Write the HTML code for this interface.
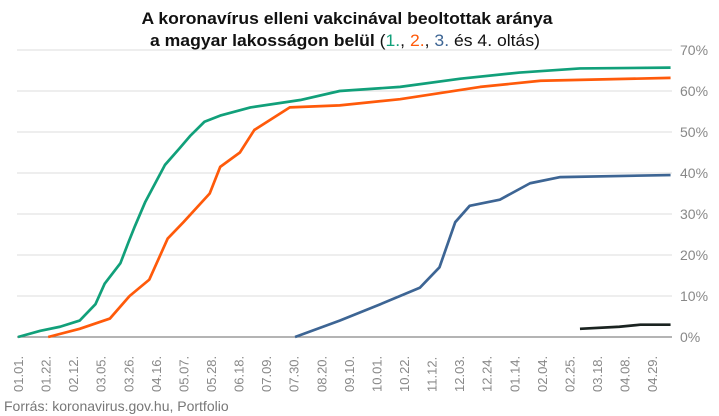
<!DOCTYPE html>
<html><head><meta charset="utf-8"><style>
body{margin:0;background:#fff;}
svg{display:block;font-family:"Liberation Sans",sans-serif;}
</style></head><body>
<svg id="chart" width="719" height="416">
<text x="347" y="24" text-anchor="middle" font-size="17" font-weight="bold" fill="#111" textLength="411" lengthAdjust="spacingAndGlyphs">A koronavírus elleni vakcinával beoltottak aránya</text>
<text x="345" y="46" text-anchor="middle" font-size="17" fill="#111" textLength="390" lengthAdjust="spacingAndGlyphs"><tspan font-weight="bold">a magyar lakosságon belül </tspan>(<tspan fill="#11a07a">1.</tspan>, <tspan fill="#ff5a0a">2.</tspan>, <tspan fill="#3d6594">3.</tspan> és 4. oltás)</text>
<g id="grid"></g><g id="series"></g><g id="xlabels"></g>
<text x="4" y="411" font-size="14" fill="#777">Forrás: koronavirus.gov.hu, Portfolio</text>
</svg>
<script>
const yTicks=[0,10,20,30,40,50,60,70];
const xLabels=["01.01.","01.22.","02.12.","03.05.","03.26.","04.16.","05.07.","05.28.","06.18.","07.09.","07.30.","08.20.","09.10.","10.01.","10.22.","11.12.","12.03.","12.24.","01.14.","02.04.","02.25.","03.18.","04.08.","04.29."];
const dose1Days=[0,17,32,47,59,66,78,84,89,97,112,123,131,142,154,177,215,245,291,337,382,428,497];
const dose1Vals=[0,1.5,2.5,4,8,13,18,23,27,33,42,46,49,52.5,54,56,57.8,60,61,63,64.5,65.5,65.7];
const dose2Days=[23,47,70,85,100,114,126,146,154,169,180,207,245,291,352,398,497];
const dose2Vals=[0,2,4.5,10,14,24,28,35,41.5,45,50.5,56,56.5,58,61,62.5,63.2];
const dose3Days=[211,245,276,306,321,333,344,367,390,413,497];
const dose3Vals=[0,4,8,12,17,28,32,33.5,37.5,39,39.5];
const dose4Days=[428,458,474,497];
const dose4Vals=[2,2.5,3,3];
const NS="http://www.w3.org/2000/svg";
const x0=18,pxPerDay=1.313,y0=337,pxPerPct=4.1;
const xs=d=>x0+d*pxPerDay, ys=v=>y0-v*pxPerPct;
const grid=document.getElementById('grid');
yTicks.forEach(t=>{
 const l=document.createElementNS(NS,'line');
 
 
 l.setAttribute('x1',17);l.setAttribute('x2',672);l.setAttribute('y1',ys(t));l.setAttribute('y2',ys(t));
 l.setAttribute('stroke',t===0?'#888':'#ddd');l.setAttribute('stroke-width',t===0?1.2:1);
 grid.appendChild(l);
 const tx=document.createElementNS(NS,'text');
 
 
 tx.setAttribute('x',680);tx.setAttribute('y',ys(t)+5);tx.setAttribute('font-size','14');tx.setAttribute('fill','#888');
 tx.textContent=t+'%';grid.appendChild(tx);
});
const xl=document.getElementById('xlabels');
xLabels.forEach((s,i)=>{
 const x=xs(i*21);
 const tx=document.createElementNS(NS,'text');
 
 
 tx.setAttribute('transform','translate('+(x+5)+',392) rotate(-90)');
 tx.setAttribute('font-size','13');tx.setAttribute('fill','#888');
 tx.textContent=s;xl.appendChild(tx);
});
const sg=document.getElementById('series');
[[dose1Days,dose1Vals,'#11a07a','dose-1-line'],[dose2Days,dose2Vals,'#ff5a0a','dose-2-line'],[dose3Days,dose3Vals,'#3d6594','dose-3-line'],[dose4Days,dose4Vals,'#1a2320','dose-4-line']].forEach(([d,v,c,n])=>{
 const p=document.createElementNS(NS,'polyline');
 
 
 p.setAttribute('points',d.map((dd,i)=>xs(dd)+','+ys(v[i])).join(' '));
 p.setAttribute('fill','none');p.setAttribute('stroke',c);p.setAttribute('stroke-width','2.7');p.setAttribute('stroke-linejoin','round');
 sg.appendChild(p);
});
</script>
</body></html>
